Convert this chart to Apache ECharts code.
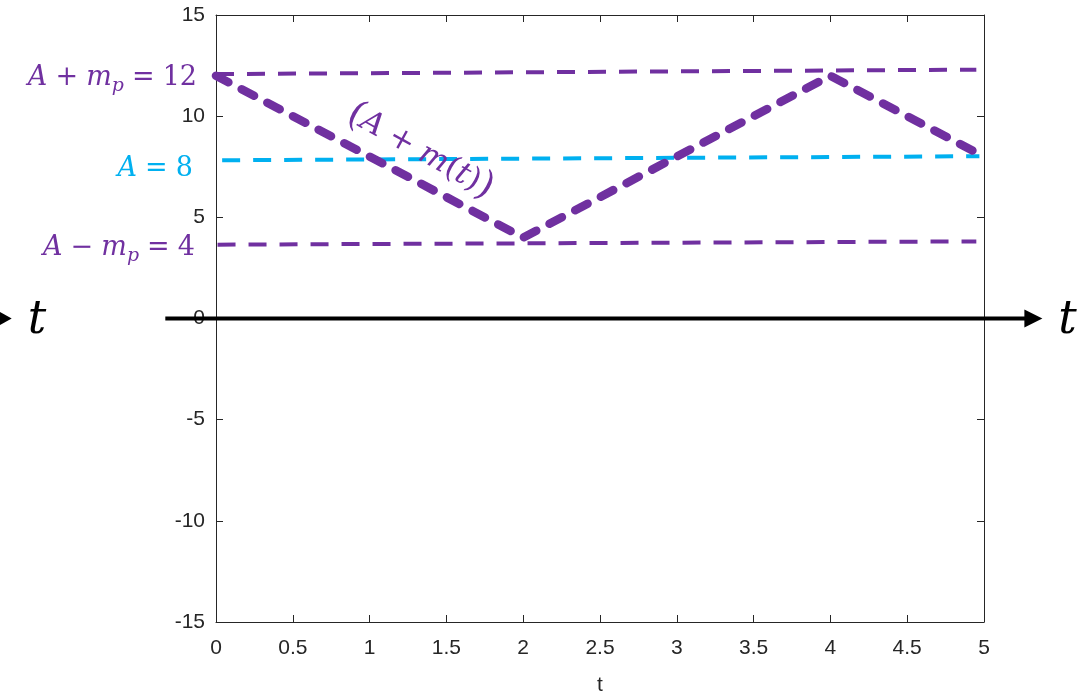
<!DOCTYPE html>
<html><head><meta charset="utf-8">
<script src="https://cdn.jsdelivr.net/npm/echarts@6/dist/echarts.min.js"></script>
<style>html,body{margin:0;padding:0;background:#fff}#c{width:1092px;height:693px}</style>
</head><body><div id="c"></div>
<script>
// ---- data ----
const zigT = [0, 2, 4, 5];
const zigV = [12, 4, 12, 8];
const upperT = [0, 4.95];
const upperV = [12.08, 12.3];
const meanT = [0.04, 4.97];
const meanV = [7.82, 8.02];
const lowerT = [0.01, 4.95];
const lowerV = [3.65, 3.81];
const arrowT = [-0.33, 5.38];
const arrowV = [0, 0];
const xRange = [0, 5, 0.5];
const yRange = [-15, 15, 5];
const labelUpper = '{i|A}{o|+}{i|m}{s|p}{o|=}{u|12}';
const labelMean = '{i|A}{o|=}{u|8}';
const labelLower = '{i|A}{o|−}{i|m}{s|p}{o|=}{u|4}';
const labelCurve = '{b|(}{i|A}{o|+}{i|m}{u|(}{i|t}{u|)}{b|)}';
const axisLabelT = 't';

const PURPLE = '#7030A0', CYAN = '#00B0F0', AX = '#262626';
const pairs = (a, b) => a.map((v, i) => [v, b[i]]);

const chart = echarts.init(document.getElementById('c'));
const axisCommon = {
  axisLine: {show: true, onZero: false, lineStyle: {color: AX, width: 1}},
  axisTick: {show: true, inside: true, length: 7, lineStyle: {color: AX}},
  splitLine: {show: false}
};
const MF = 'DejaVu Serif';
const mathRich = (size, color) => ({
  i: {fontFamily: MF, fontStyle: 'italic', fontSize: size, fill: color, lineHeight: 36},
  u: {fontFamily: MF, fontSize: size, fill: color, lineHeight: 36},
  o: {fontFamily: MF, fontSize: size, fill: color, lineHeight: 36, padding: [0, size * 0.3, 0, size * 0.3]},
  b: {fontFamily: MF, fontSize: size * 1.2, fill: color, lineHeight: 36},
  s: {fontFamily: MF, fontStyle: 'italic', fontSize: size * 0.7, fill: color, lineHeight: 20, verticalAlign: 'bottom'}
});

chart.setOption({
  animation: false,
  backgroundColor: '#fff',
  grid: {left: 216, right: 108, top: 15, bottom: 71, containLabel: false, outerBoundsMode: 'none'},
  xAxis: [
    Object.assign({type: 'value', min: xRange[0], max: xRange[1], interval: xRange[2], position: 'bottom',
      name: axisLabelT, nameLocation: 'middle', nameGap: 53,
      nameTextStyle: {fontFamily: 'Liberation Sans', fontSize: 21, color: AX},
      axisLabel: {fontFamily: 'Liberation Sans', fontSize: 21, color: AX, margin: 16}}, axisCommon),
    Object.assign({type: 'value', min: xRange[0], max: xRange[1], interval: xRange[2], position: 'top',
      axisLabel: {show: false}}, axisCommon)
  ],
  yAxis: [
    Object.assign({type: 'value', min: yRange[0], max: yRange[1], interval: yRange[2], position: 'left',
      axisLabel: {fontFamily: 'Liberation Sans', fontSize: 21, color: AX, margin: 11}}, axisCommon),
    Object.assign({type: 'value', min: yRange[0], max: yRange[1], interval: yRange[2], position: 'right',
      axisLabel: {show: false}}, axisCommon)
  ],
  series: [
    {type: 'line', data: pairs(upperT, upperV), symbol: 'none', z: 3,
      lineStyle: {color: PURPLE, width: 4, type: [18, 13]}},
    {type: 'line', data: pairs(meanT, meanV), symbol: 'none', z: 3,
      lineStyle: {color: CYAN, width: 4, type: [18, 13]}},
    {type: 'line', data: pairs(lowerT, lowerV), symbol: 'none', z: 3,
      lineStyle: {color: PURPLE, width: 4, type: [18, 13]}},
    {type: 'line', data: pairs(zigT, zigV), symbol: 'none', z: 4,
      lineStyle: {color: PURPLE, width: 8.5, type: [14, 15], cap: 'round', join: 'round'}}
  ]
});

const px = (x, y) => chart.convertToPixel({gridIndex: 0}, [x, y]);
const pUp = px(0, 12), pMean = px(0, 8), pLow = px(0, 4);
const pStart = px(arrowT[0], arrowV[0]);
const pEnd = px(arrowT[1], arrowV[1]);
const pLeftTip = px(-1.33, 0);
const pCurve = px(1.33, 8.25);
chart.setOption({
  graphic: [
    {type: 'line', z: 9, shape: {x1: pStart[0], y1: pStart[1], x2: pEnd[0] - 12, y2: pEnd[1]}, style: {stroke: '#000', lineWidth: 4}},
    {type: 'polygon', z: 10, shape: {points: [[pEnd[0] - 18, pEnd[1] - 9], [pEnd[0], pEnd[1]], [pEnd[0] - 18, pEnd[1] + 9]]}, style: {fill: '#000'}},
    {type: 'polygon', z: 10, shape: {points: [[pLeftTip[0] - 16, pLeftTip[1] - 9], [pLeftTip[0], pLeftTip[1]], [pLeftTip[0] - 16, pLeftTip[1] + 9]]}, style: {fill: '#000'}},
    {type: 'text', z: 10, x: pEnd[0] + 16, y: pEnd[1] + 3, style: {text: axisLabelT, font: 'italic 46px "DejaVu Serif"', fill: '#000', align: 'left', verticalAlign: 'middle'}},
    {type: 'text', z: 10, x: pLeftTip[0] + 16, y: pLeftTip[1] + 3, style: {text: axisLabelT, font: 'italic 46px "DejaVu Serif"', fill: '#000', align: 'left', verticalAlign: 'middle'}},
    {type: 'text', z: 10, x: pUp[0] - 19, y: pUp[1] + 2, style: {text: labelUpper, rich: mathRich(27, PURPLE), align: 'right', verticalAlign: 'middle'}},
    {type: 'text', z: 10, x: pMean[0] - 23, y: pMean[1] + 12, style: {text: labelMean, rich: mathRich(27, CYAN), align: 'right', verticalAlign: 'middle'}},
    {type: 'text', z: 10, x: pLow[0] - 21, y: pLow[1] + 10, style: {text: labelLower, rich: mathRich(27, PURPLE), align: 'right', verticalAlign: 'middle'}},
    {type: 'text', z: 10, x: pCurve[0], y: pCurve[1], rotation: -29 * Math.PI / 180, style: {text: labelCurve, rich: mathRich(31, PURPLE), align: 'center', verticalAlign: 'middle'}}
  ]
});
</script>
</body></html>
